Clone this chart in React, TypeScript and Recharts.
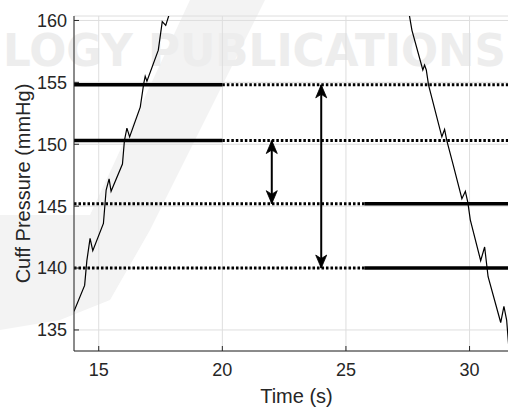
import React from "react";
import { ComposedChart, Line, XAxis, YAxis, CartesianGrid } from "recharts";

// rising part of the cuff pressure trace
const riseTime = [14.0, 14.43, 14.52, 14.65, 14.76, 15.19, 15.3, 15.42, 15.5, 15.96, 16.04, 16.14, 16.25, 16.68, 16.82, 16.88, 16.95, 17.41, 17.57, 17.71, 17.9];
const risePressure = [136.5, 138.6, 140.6, 142.4, 141.4, 143.6, 146.3, 147.2, 146.2, 148.4, 150.3, 151.3, 150.6, 153.0, 154.9, 155.5, 155.1, 157.6, 159.9, 159.6, 160.8];

// falling part (deflation)
const fallTime = [27.55, 27.67, 28.11, 28.18, 28.25, 28.34, 28.88, 28.99, 29.08, 29.33, 29.69, 29.83, 29.93, 30.03, 30.45, 30.61, 30.75, 31.26, 31.39, 31.5, 31.62];
const fallPressure = [160.6, 159.2, 156.0, 156.4, 156.0, 154.8, 150.6, 151.2, 150.3, 148.4, 145.6, 146.2, 145.3, 143.9, 140.6, 141.7, 139.3, 135.6, 136.9, 135.8, 132.8];

// horizontal pressure levels
const levels = [154.8, 150.3, 145.2, 140.0];
const splitTime = [20, 20, 25.75, 25.75];
const solidOnLeft = [true, true, false, false];

// double arrows between levels
const arrowTime = [22, 24];
const arrowTop = [150.3, 154.8];
const arrowBottom = [145.2, 140.0];

const xTicks = [15, 20, 25, 30];
const yTicks = [135, 140, 145, 150, 155, 160];

const X_MIN = 14;
const X_MAX = 32;

const rise = riseTime.map((t, i) => ({ x: t, y: risePressure[i] }));
const fall = fallTime.map((t, i) => ({ x: t, y: fallPressure[i] }));

const FONT = "'Liberation Sans', Arial, sans-serif";
const AXIS = "#262626";

const ArrowHead = (props: any) => {
    const { cx, cy, index } = props;
    if (cx == null || cy == null) return <g key={index} />;
    const d = index === 0 ? 1 : -1; // first point is the top one, head points up
    const path = `M ${cx} ${cy} L ${cx + 5.5} ${cy + d * 13} L ${cx} ${cy + d * 9.5} L ${cx - 5.5} ${cy + d * 13} Z`;
    return <path key={index} d={path} fill="#000" stroke="#000" strokeWidth={0.8} strokeLinejoin="miter" />;
};

export default function App() {
    const segs: any[] = [];
    levels.forEach((lv, i) => {
        const left = [{ x: X_MIN, y: lv }, { x: splitTime[i], y: lv }];
        const right = [{ x: splitTime[i], y: lv }, { x: X_MAX, y: lv }];
        segs.push({ key: `l${i}`, data: left, solid: solidOnLeft[i] });
        segs.push({ key: `r${i}`, data: right, solid: !solidOnLeft[i] });
    });

    return (
        <div style={{ position: "relative", width: 508, height: 408, overflow: "hidden" }}>
            <style>{"html,body{margin:0;padding:0;overflow:hidden;}"}</style>
            {/* faint publisher watermark behind the chart */}
            <svg width={508} height={408} style={{ position: "absolute", left: 0, top: 0 }}>
                <polygon points="190,0 265,0 150,230 110,300 60,320 0,330 0,215 90,215" fill="#f3f3f3" />
                <text
                    x={3}
                    y={66}
                    textLength={503}
                    lengthAdjust="spacingAndGlyphs"
                    fontFamily="'DejaVu Sans', sans-serif"
                    fontWeight="bold"
                    fontSize={44}
                    fill="#ededed"
                >
                    LOGY PUBLICATIONS
                </text>
            </svg>
            <div style={{ position: "absolute", left: 8, top: 8 }}>
                <ComposedChart width={540} height={400} margin={{ top: 8, right: 29, bottom: 0, left: 0 }}>
                    <CartesianGrid stroke="#dedede" strokeWidth={1} />
                    <XAxis
                        dataKey="x"
                        type="number"
                        domain={[X_MIN, X_MAX]}
                        ticks={xTicks}
                        allowDataOverflow
                        height={57}
                        stroke={AXIS}
                        tickSize={-5}
                        tickMargin={17}
                        tick={{ fontSize: 18, fill: AXIS, fontFamily: FONT }}
                        label={{ value: "Time (s)", position: "insideBottom", offset: 5, fontSize: 20, fill: AXIS, fontFamily: FONT }}
                    />
                    <XAxis
                        xAxisId="top"
                        orientation="top"
                        type="number"
                        domain={[X_MIN, X_MAX]}
                        ticks={xTicks}
                        allowDataOverflow
                        height={0}
                        stroke={AXIS}
                        tickSize={-5}
                        tickFormatter={() => ""}
                    />
                    <YAxis
                        type="number"
                        domain={[133.3, 160.36]}
                        ticks={yTicks}
                        allowDataOverflow
                        width={66}
                        stroke={AXIS}
                        tickSize={-5}
                        tickMargin={12}
                        tick={{ fontSize: 18, fill: AXIS, fontFamily: FONT }}
                        label={{
                            value: "Cuff Pressure (mmHg)",
                            angle: -90,
                            position: "insideLeft",
                            offset: 15,
                            style: { textAnchor: "middle" },
                            fontSize: 20,
                            fill: AXIS,
                            fontFamily: FONT,
                        }}
                    />
                    {segs.map((s) => (
                        <Line
                            key={s.key}
                            data={s.data}
                            dataKey="y"
                            stroke="#000"
                            strokeWidth={s.solid ? 3.5 : 3}
                            strokeDasharray={s.solid ? undefined : "2.5 2"}
                            dot={false}
                            activeDot={false}
                            isAnimationActive={false}
                        />
                    ))}
                    <Line data={rise} dataKey="y" stroke="#000" strokeWidth={1.2} dot={false} activeDot={false} isAnimationActive={false} />
                    <Line data={fall} dataKey="y" stroke="#000" strokeWidth={1.2} dot={false} activeDot={false} isAnimationActive={false} />
                    {arrowTime.map((t, i) => (
                        <Line
                            key={`a${i}`}
                            data={[{ x: t, y: arrowTop[i] }, { x: t, y: arrowBottom[i] }]}
                            dataKey="y"
                            stroke="#000"
                            strokeWidth={2}
                            dot={(p: any) => <ArrowHead key={`h${i}-${p.index}`} {...p} />}
                            activeDot={false}
                            isAnimationActive={false}
                        />
                    ))}
                </ComposedChart>
            </div>
        </div>
    );
}
